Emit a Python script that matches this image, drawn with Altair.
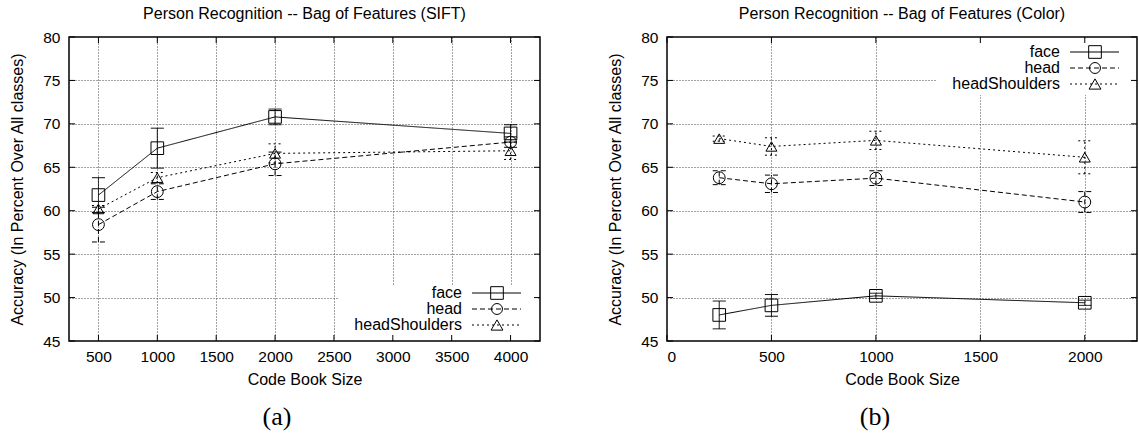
import altair as alt
import pandas as pd

# ---------------- data ----------------
series_names = ["face", "head", "headShoulders"]

sift_sizes = [500, 1000, 2000, 4000]
sift_face = [61.8, 67.2, 70.8, 68.9]
sift_face_err = [2.0, 2.3, 0.9, 1.0]
sift_head = [58.4, 62.2, 65.4, 67.9]
sift_head_err = [2.0, 0.9, 1.35, 0.6]
sift_hs = [60.2, 63.8, 66.6, 66.9]
sift_hs_err = [0.4, 0.6, 1.1, 1.0]

color_sizes = [250, 500, 1000, 2000]
color_face = [48.0, 49.1, 50.2, 49.4]
color_face_err = [1.6, 1.25, 0.3, 0.3]
color_head = [63.8, 63.1, 63.75, 61.0]
color_head_err = [0.8, 1.0, 0.85, 1.2]
color_hs = [68.3, 67.4, 68.1, 66.15]
color_hs_err = [0.3, 1.0, 1.05, 1.9]

sift_xticks = [500, 1000, 1500, 2000, 2500, 3000, 3500, 4000]
color_xticks = [0, 500, 1000, 1500, 2000]
yticks = [45, 50, 55, 60, 65, 70, 75, 80]

FONT = "Liberation Sans"
SERIF = "Liberation Serif"
dashes = [[1, 0], [5, 3], [2, 3]]
shapes = ["square", "circle", "triangle-up"]
sizes = [160, 120, 140]
H = 304


def long_df(xs, vals, errs):
    rows = []
    for name, v, e in zip(series_names, vals, errs):
        for x, y, err in zip(xs, v, e):
            rows.append({"x": x, "y": y, "lo": y - err, "hi": y + err, "series": name})
    return pd.DataFrame(rows)


def panel(df, xdomain, xticks, W, title, legend_rows, box, caption):
    xscale = alt.Scale(domain=xdomain, nice=False, zero=False)
    yscale = alt.Scale(domain=[45, 80], nice=False, zero=False)
    xaxis = alt.Axis(values=xticks, title="Code Book Size", format="d")
    yaxis = alt.Axis(values=yticks, title="Accuracy (In Percent Over All classes)")
    X = alt.X("x:Q", scale=xscale, axis=xaxis)
    dash = alt.StrokeDash("series:N", scale=alt.Scale(domain=series_names, range=dashes), legend=None)
    one = pd.DataFrame({"a": [0]})
    base = alt.Chart(df)

    layers = []
    # legend box (opaque key area)
    layers.append(alt.Chart(one).mark_rect(color="white").encode(
        x=alt.value(box[0]), x2=alt.value(box[1]), y=alt.value(box[2]), y2=alt.value(box[3])))
    # inward ticks
    xt = pd.DataFrame({"x": xticks})
    yt = pd.DataFrame({"y": yticks})
    layers.append(alt.Chart(xt).mark_rule(color="black", strokeWidth=1).encode(
        x=X, y=alt.value(H), y2=alt.value(H - 6)))
    layers.append(alt.Chart(xt).mark_rule(color="black", strokeWidth=1).encode(
        x=X, y=alt.value(0), y2=alt.value(6)))
    layers.append(alt.Chart(yt).mark_rule(color="black", strokeWidth=1).encode(
        y=alt.Y("y:Q", scale=yscale, axis=yaxis), x=alt.value(0), x2=alt.value(6)))
    layers.append(alt.Chart(yt).mark_rule(color="black", strokeWidth=1).encode(
        y=alt.Y("y:Q", scale=yscale, axis=yaxis), x=alt.value(W), x2=alt.value(W - 6)))
    # lines
    layers.append(base.mark_line(color="black", strokeWidth=1).encode(
        x=X, y=alt.Y("y:Q", scale=yscale, axis=yaxis), strokeDash=dash, detail="series:N"))
    # error bars
    layers.append(base.mark_rule(color="black", strokeWidth=1).encode(
        x=X, y=alt.Y("lo:Q", scale=yscale, axis=yaxis), y2="hi:Q", strokeDash=dash))
    for col in ["lo", "hi"]:
        layers.append(base.mark_rule(color="black", strokeWidth=1, xOffset=-6.5, x2Offset=6.5).encode(
            x=X, x2="x:Q", y=alt.Y(f"{col}:Q", scale=yscale, axis=yaxis), strokeDash=dash))
    # points
    layers.append(base.mark_point(filled=False, color="black", strokeWidth=1, opacity=1).encode(
        x=X, y=alt.Y("y:Q", scale=yscale, axis=yaxis),
        shape=alt.Shape("series:N", scale=alt.Scale(domain=series_names, range=shapes), legend=None),
        size=alt.Size("series:N", scale=alt.Scale(domain=series_names, range=sizes), legend=None)))
    # key
    for name, d, s, sz, ry in zip(series_names, dashes, shapes, sizes, legend_rows):
        layers.append(alt.Chart(one).mark_text(align="right", baseline="middle", font=FONT,
                                               fontSize=16, color="black").encode(
            x=alt.value(393), y=alt.value(ry), text=alt.value(name)))
        layers.append(alt.Chart(one).mark_rule(color="black", strokeWidth=1, strokeDash=d).encode(
            x=alt.value(403), x2=alt.value(452), y=alt.value(ry)))
        layers.append(alt.Chart(one).mark_point(shape=s, size=sz, filled=False, color="black",
                                                strokeWidth=1, opacity=1).encode(
            x=alt.value(428), y=alt.value(ry)))
    # caption
    layers.append(alt.Chart(one).mark_text(font=SERIF, fontSize=26, color="black",
                                           baseline="middle", align="center").encode(
        x=alt.value(208), y=alt.value(380), text=alt.value(caption)))

    return alt.layer(*layers).properties(
        width=W, height=H,
        title=alt.TitleParams(title, fontSize=16, font=FONT, fontWeight="normal", color="black",
                              offset=8, anchor="middle"))


sift_df = long_df(sift_sizes, [sift_face, sift_head, sift_hs], [sift_face_err, sift_head_err, sift_hs_err])
color_df = long_df(color_sizes, [color_face, color_head, color_hs], [color_face_err, color_head_err, color_hs_err])

left = panel(sift_df, [250, 4250], sift_xticks, 471,
             "Person Recognition -- Bag of Features (SIFT)", [256, 272, 288], [269, 469, 248, 302.5], "(a)")
right = panel(color_df, [0, 2250], color_xticks, 470,
              "Person Recognition -- Bag of Features (Color)", [15, 31, 47], [269, 468.5, 1.5, 58], "(b)")

chart = alt.hconcat(left, right, spacing=65).properties(
    padding={"left": 9, "top": 5, "right": 0, "bottom": 0}
).configure_view(stroke="black", strokeWidth=1.5).configure_axis(
    labelFont=FONT, labelFontSize=15.5, labelColor="black",
    titleFont=FONT, titleFontSize=16, titleFontWeight="normal", titleColor="black",
    grid=True, gridColor="#444", gridDash=[1, 2], gridWidth=1,
    ticks=False, tickSize=0, domain=False,
).configure_axisX(labelPadding=8, titlePadding=7).configure_axisY(labelPadding=9, titlePadding=17)

chart.save("out.html", embed_options={"renderer": "svg", "actions": False})
